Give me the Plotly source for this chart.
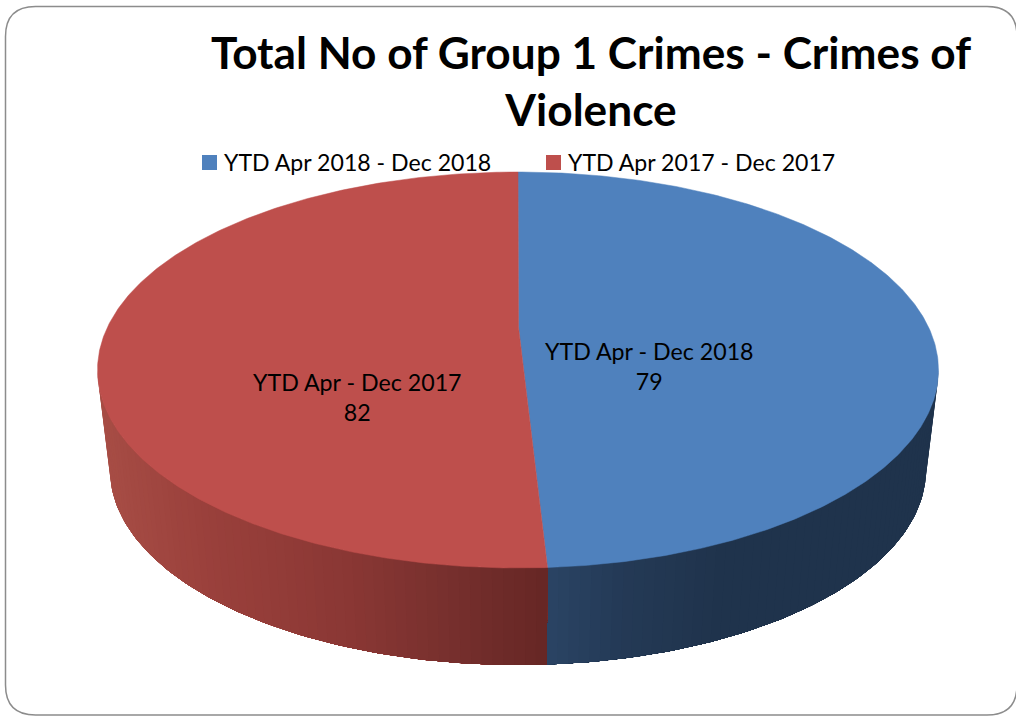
import math
import plotly.graph_objects as go

# ---- data ----
series_names = ["YTD Apr 2018 - Dec 2018", "YTD Apr 2017 - Dec 2017"]
label_names = ["YTD Apr - Dec 2018", "YTD Apr - Dec 2017"]
values = [79, 82]
top_colors = ["#4F81BD", "#BE4F4C"]
chart_title = "Total No of Group 1 Crimes - Crimes of<br>Violence"

# ---- projection of the tilted pie, in page pixels ----
W, H = 1016, 716
CX, CY, RX, RY = 518.0, 370.0, 420.5, 198.0
BX, BY, BRX, BRY = 518.0, 470.0, 408.0, 195.0
PIVOT = (518.5, 327.0)
NEAR_STRETCH = 1.2
FONT = "Lato"


def split_angle():
    a = 360.0 * values[0] / sum(values)
    return 180.0 - (180.0 - a) * NEAR_STRETCH


def top_pt(deg):
    r = math.radians(deg)
    return CX + RX * math.sin(r), CY - RY * math.cos(r)


def bottom_pt(deg):
    r = math.radians(deg)
    return BX + BRX * math.sin(r), BY - BRY * math.cos(r)


def col(stops, x):
    if x <= stops[0][0]:
        c = stops[0][1]
        return f"rgb({c[0]},{c[1]},{c[2]})"
    for (x0, c0), (x1, c1) in zip(stops, stops[1:]):
        if x <= x1:
            f = (x - x0) / (x1 - x0)
            rgb = [round(c0[i] + (c1[i] - c0[i]) * f) for i in range(3)]
            return f"rgb({rgb[0]},{rgb[1]},{rgb[2]})"
    c = stops[-1][1]
    return f"rgb({c[0]},{c[1]},{c[2]})"


red_wall = [(98, (168, 78, 70)), (200, (155, 65, 60)), (350, (138, 55, 52)), (470, (115, 46, 44)), (547, (102, 38, 37))]
blue_wall = [(547, (42, 68, 100)), (620, (36, 58, 86)), (720, (31, 51, 76)), (938, (31, 51, 76))]

fig = go.Figure()
split = split_angle()


def add_wall(a0, a1, stops):
    # painted outer edge first; every band runs on to the split, so no seams show
    n = max(2, int(abs(a1 - a0) / 1.5))
    for i in range(n):
        t0 = a0 + (a1 - a0) * i / n
        t_mid = a0 + (a1 - a0) * (i + 0.5) / n
        m = max(2, int(abs(a1 - t0)))
        steps = [t0 + (a1 - t0) * k / m for k in range(m + 1)]
        upper = [top_pt(t) for t in steps]
        lower = [bottom_pt(t) for t in reversed(steps)]
        pts = upper + lower + [upper[0]]
        c = col(stops, (top_pt(t_mid)[0] + bottom_pt(t_mid)[0]) / 2)
        fig.add_trace(go.Scatter(
            x=[p[0] for p in pts], y=[p[1] for p in pts], mode="lines",
            fill="toself", fillcolor=c, line=dict(width=0),
            hoverinfo="skip", showlegend=False))


add_wall(90, split, blue_wall)
add_wall(270, split, red_wall)


def add_top(a0, a1, color, name):
    n = int(abs(a1 - a0) * 2)
    arc = [top_pt(a0 + (a1 - a0) * i / n) for i in range(n + 1)]
    pts = [PIVOT] + arc + [PIVOT]
    fig.add_trace(go.Scatter(
        x=[p[0] for p in pts], y=[p[1] for p in pts], mode="lines",
        fill="toself", fillcolor=color, line=dict(color=color, width=0.5),
        hoverinfo="skip", showlegend=False, name=name))


add_top(0, split, top_colors[0], series_names[0])
add_top(split, 360, top_colors[1], series_names[1])

# legend keys and names
legend_pos = [(209.5, 162.5), (553.5, 162.5)]
for name, c, (kx, ky) in zip(series_names, top_colors, legend_pos):
    fig.add_trace(go.Scatter(
        x=[kx], y=[ky], mode="markers", name=name, showlegend=False,
        marker=dict(symbol="square", size=15, color=c, line=dict(width=0)), hoverinfo="skip"))
    fig.add_annotation(x=kx + 12.5, y=ky - 1, text=name, showarrow=False, xanchor="left", yanchor="middle",
                       font=dict(family=FONT, size=23.1, color="#000000"))

# data labels
label_pos = [(649, 366), (357, 397)]
for nm, v, (lx, ly) in zip(label_names, values, label_pos):
    fig.add_annotation(x=lx, y=ly, text=f"{nm}<br>{v}", showarrow=False,
                       font=dict(family=FONT, size=23.2, color="#000000"),
                       xanchor="center", yanchor="middle", align="center")

frame = (5.5, 6.5, 1017, 715, 30)
fx0, fy0, fx1, fy1, fr = frame
frame_path = (f"M {fx0+fr} {fy0} L {fx1-fr} {fy0} Q {fx1} {fy0} {fx1} {fy0+fr} "
              f"L {fx1} {fy1-fr} Q {fx1} {fy1} {fx1-fr} {fy1} "
              f"L {fx0+fr} {fy1} Q {fx0} {fy1} {fx0} {fy1-fr} "
              f"L {fx0} {fy0+fr} Q {fx0} {fy0} {fx0+fr} {fy0} Z")

fig.update_layout(
    width=W, height=H, margin=dict(l=0, r=0, t=0, b=0),
    paper_bgcolor="white", plot_bgcolor="white",
    xaxis=dict(range=[0, W], visible=False, fixedrange=True),
    yaxis=dict(range=[H, 0], visible=False, fixedrange=True),
    showlegend=False,
    title=dict(text=f"<b>{chart_title}</b>", x=591 / W, xanchor="center",
               y=1 - 69 / H, yanchor="top",
               font=dict(family=FONT, size=44.2, color="#000000")),
    shapes=[dict(type="path", path=frame_path, xref="x", yref="y",
                 line=dict(color="#8C8C8C", width=1.5), layer="above")],
    hovermode=False,
)

fig.write_html("out.html", config=dict(displayModeBar=False),
               post_script="document.body.style.margin='0';document.body.style.overflow='hidden';")
